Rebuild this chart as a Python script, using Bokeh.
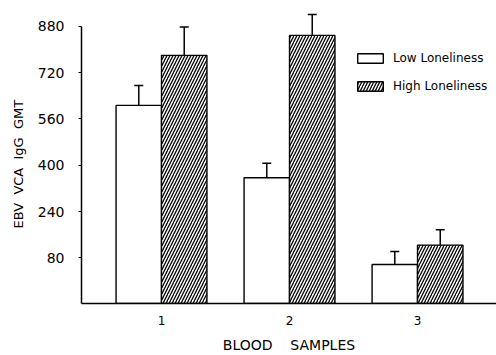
import numpy as np
from bokeh.plotting import figure
from bokeh.models import (ColumnDataSource, Range1d, FixedTicker, Whisker, TeeHead,
                          Legend, LegendItem, Title)
from bokeh.embed import file_html
from bokeh.resources import INLINE

# ---- data ----
samples = [1, 2, 3]
sample_labels = ["1", "2", "3"]
low_loneliness = [607, 357, 57]
low_err_top = [676, 407, 102]
high_loneliness = [780, 849, 124]
high_err_top = [878, 921, 177]
y_ticks = [80, 240, 400, 560, 720, 880]

FONT = "DejaVu Sans"
BASE = -78
BAR_W = 0.355

g = np.array(samples, dtype=float)
src_low = ColumnDataSource(dict(x=g - BAR_W / 2, top=low_loneliness, err=low_err_top))
src_high = ColumnDataSource(dict(x=g + BAR_W / 2, top=high_loneliness, err=high_err_top))

p = figure(width=496, height=355, output_backend="svg", toolbar_location=None,
           x_range=Range1d(0.375, 3.617), y_range=Range1d(BASE, 942),
           min_border_left=81, min_border_right=0, min_border_top=8, min_border_bottom=52)
p.outline_line_color = None
p.xgrid.visible = False
p.ygrid.visible = False
p.background_fill_color = "white"

r_low = p.vbar(x="x", top="top", bottom=BASE, width=BAR_W, source=src_low,
               fill_color="white", line_color="black", line_width=1.4)
r_high = p.vbar(x="x", top="top", bottom=BASE, width=BAR_W, source=src_high,
                fill_color="white", line_color="black", line_width=1.4,
                hatch_pattern="/", hatch_color="black", hatch_scale=6, hatch_weight=1.3)

for src in (src_low, src_high):
    w = Whisker(base="x", lower="top", upper="err", source=src, dimension="height",
                line_color="black", line_width=1.5,
                upper_head=TeeHead(size=9, line_color="black", line_width=1.5),
                lower_head=None)
    p.add_layout(w)

# axes
yax = p.yaxis[0]
yax.ticker = FixedTicker(ticks=y_ticks)
yax.bounds = (BASE, 880)
yax.axis_line_width = 1.5
yax.major_tick_out = 3
yax.major_tick_in = 0
yax.minor_tick_out = 0
yax.minor_tick_in = 0
yax.major_label_standoff = 14
yax.major_label_text_font = FONT
yax.major_label_text_font_size = "14px"
yax.major_label_text_color = "black"

xax = p.xaxis[0]
xax.ticker = FixedTicker(ticks=samples)
xax.major_label_overrides = {s: l for s, l in zip(samples, sample_labels)}
xax.axis_line_width = 1.5
xax.major_tick_out = 0
xax.major_tick_in = 0
xax.minor_tick_out = 0
xax.minor_tick_in = 0
xax.major_label_standoff = 12
xax.major_label_text_font = FONT
xax.major_label_text_font_size = "12px"
xax.major_label_text_color = "black"
xax.axis_label = "BLOOD\u00a0\u00a0\u00a0\u00a0SAMPLES"
xax.axis_label_text_font = FONT
xax.axis_label_text_font_style = "normal"
xax.axis_label_text_font_size = "14px"
xax.axis_label_text_line_height = 1.0
xax.axis_label_standoff = 9
xax.axis_label_text_color = "black"

ytitle = Title(text="EBV\u00a0 VCA\u00a0 IgG\u00a0 GMT", align="left", offset=75,
               vertical_align="middle", standoff=16, text_font=FONT,
               text_font_size="13px", text_font_style="normal", text_color="black")
p.add_layout(ytitle, "left")

legend = Legend(items=[LegendItem(label="Low Loneliness", renderers=[r_low]),
                       LegendItem(label="High Loneliness", renderers=[r_high])],
                location=(273, 210), orientation="vertical",
                glyph_width=32, glyph_height=12, label_height=12, spacing=14,
                label_standoff=7, padding=0, margin=0,
                border_line_color=None, background_fill_alpha=0,
                label_text_font=FONT, label_text_font_size="12px",
                label_text_color="black")
p.add_layout(legend)

open("out.html", "w").write(file_html(p, INLINE))
